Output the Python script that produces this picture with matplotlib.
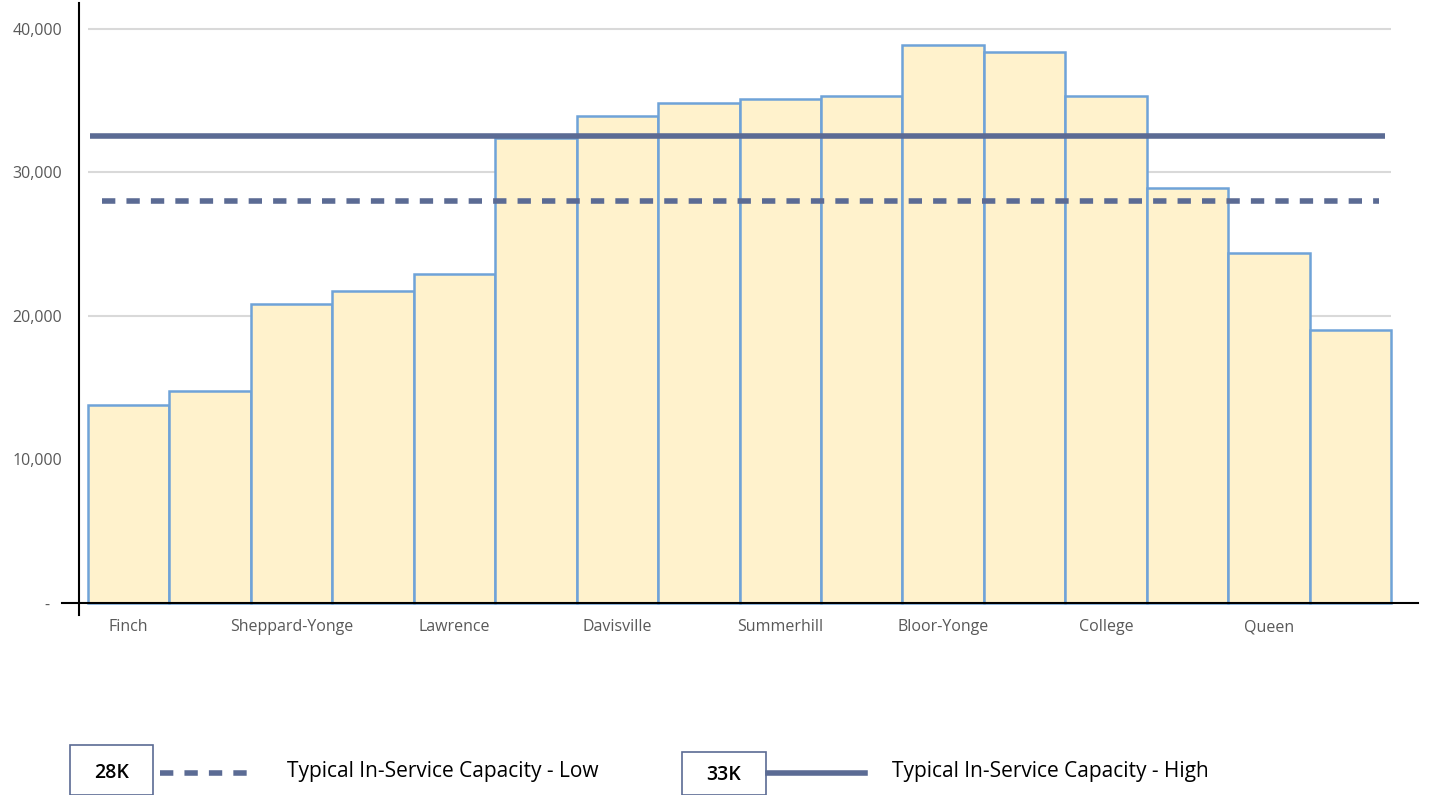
import matplotlib.pyplot as plt
from matplotlib.patches import Rectangle
from matplotlib.lines import Line2D

# Yonge line stations, north to south
stations = ['Finch', 'North York Centre', 'Sheppard-Yonge', 'York Mills', 'Lawrence',
            'Eglinton', 'Davisville', 'St Clair', 'Summerhill', 'Rosedale',
            'Bloor-Yonge', 'Wellesley', 'College', 'Dundas', 'Queen', 'King']
riders = [13800, 14800, 20800, 21700, 22900, 32400, 33900, 34800,
          35100, 35300, 38900, 38400, 35300, 28900, 24400, 19000]
cap_low = 28000
cap_high = 32500
cap_low_label = '28K'
cap_high_label = '33K'
yticks = [0, 10000, 20000, 30000, 40000]
ytick_labels = ['-   ', '10,000', '20,000', '30,000', '40,000']

W, H = 1429, 795
fig = plt.figure(figsize=(W / 100, H / 100), dpi=100)
plt.rcParams['font.family'] = ['Open Sans', 'DejaVu Sans']

def fx(px):
    return px / W

def fy(py):
    return 1 - py / H

ax = fig.add_axes([fx(79), fy(615), fx(1418) - fx(79), fy(3) - fy(615)])
ax.set_xlim(-0.61, 15.83)
ax.set_ylim(-840, 41800)

x = list(range(len(stations)))
ax.hlines(yticks[1:], -0.5, 15.5, color='#d9d9d9', lw=1.5, zorder=0)
ax.bar(x, riders, width=1.0, color='#fff2cc', edgecolor='#6fa3d8', lw=1.8, zorder=2)

ax.hlines(cap_high, -0.47, 15.43, color='#5b6b94', lw=4, zorder=3)
ax.hlines(cap_low, -0.33, 15.35, color='#5b6b94', lw=4, linestyles=(0, (2.4, 2.0)), zorder=3)

# baseline runs a little past the left spine
ax.plot([-0.82, 15.83], [0, 0], color='black', lw=1.5, clip_on=False, zorder=4)

for s in ['top', 'right', 'bottom']:
    ax.spines[s].set_visible(False)
ax.spines['left'].set_linewidth(1.5)

ax.set_yticks(yticks)
ax.set_yticklabels(ytick_labels, color='#595959', fontsize=11.5)
ax.tick_params(axis='y', length=0, pad=12)
ax.set_xticks(x[::2])
ax.set_xticklabels(stations[::2], color='#595959', fontsize=11.5)
ax.tick_params(axis='x', length=0, pad=3)

# legend drawn by hand below the chart
edge = '#5b6b94'
fig.add_artist(Rectangle((fx(70), fy(795)), fx(153) - fx(70), fy(745) - fy(795),
                         transform=fig.transFigure, fill=False, ec=edge, lw=1.2))
fig.text(fx(112), fy(773), cap_low_label, ha='center', va='center', fontsize=14, fontweight='semibold')
fig.add_artist(Line2D([fx(160), fx(250)], [fy(773), fy(773)], transform=fig.transFigure,
                      color=edge, lw=4, linestyle=(0, (2.4, 2.0))))
fig.text(fx(287), fy(772), 'Typical In-Service Capacity - Low', ha='left', va='center', fontsize=15)

fig.add_artist(Rectangle((fx(682), fy(795)), fx(766) - fx(682), fy(752) - fy(795),
                         transform=fig.transFigure, fill=False, ec=edge, lw=1.2))
fig.text(fx(724), fy(775), cap_high_label, ha='center', va='center', fontsize=14, fontweight='semibold')
fig.add_artist(Line2D([fx(768), fx(865)], [fy(773), fy(773)], transform=fig.transFigure,
                      color=edge, lw=4))
fig.text(fx(892), fy(772), 'Typical In-Service Capacity - High', ha='left', va='center', fontsize=15)

fig.savefig('out.png', dpi=100)
